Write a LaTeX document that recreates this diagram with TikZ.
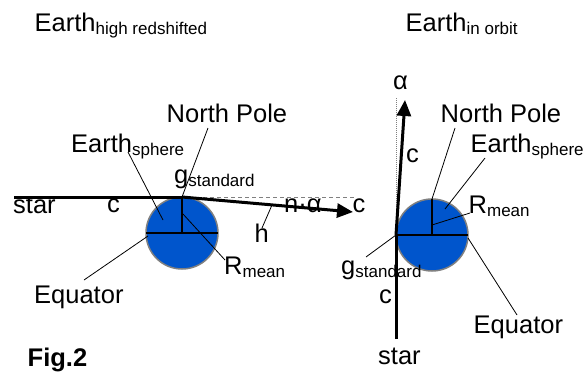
\documentclass[tikz,border=0pt]{standalone}
\usepackage{fontspec}
\setmainfont{Liberation Sans}
\usetikzlibrary{arrows.meta}
\definecolor{earthblue}{RGB}{0,85,204}
\newcommand{\lowtext}[1]{\raisebox{-3.5pt}{\fontsize{17}{17}\selectfont #1}}

\begin{document}
\begin{tikzpicture}[x=1pt, y=1pt,
    lbl/.style={inner sep=0pt, anchor=base west, font=\fontsize{25.5}{30}\selectfont},
    leader/.style={line width=0.8pt},
    beam/.style={line width=3pt},
    axis/.style={line width=2pt},
    earth/.style={fill=earthblue, draw=gray, line width=1.5pt},
    guide/.style={gray, line width=0.8pt, dash pattern=on 4pt off 3pt},
    fineguide/.style={gray, line width=0.8pt, dash pattern=on 1pt off 1pt},
    tip/.style={-{Triangle[length=16pt, width=14pt]}}]
    \def\W{585}   % picture width
    \def\H{372}   % picture height
    \def\R{36}    % earth radius
    \useasboundingbox (0,0) rectangle (\W,-\H);
    % Titles
    \node[lbl] (ltitle) at (34.5,-31) {Earth\lowtext{high redshifted}};
    \node[lbl] (rtitle) at (405.5,-31) {Earth\lowtext{in orbit}};
    \node[lbl, font=\fontsize{25.5}{30}\selectfont\bfseries] (fig) at (27.5,-366) {Fig.2};
    % Draw the redshifted earth
    \begin{scope}[shift={(182,-233)}]
        \coordinate (ltop) at (0,\R);
        \coordinate (lctr) at (0,0);
        \coordinate (lwest) at (-\R,0);
        \coordinate (least) at (\R,0);
        \coordinate (lfar) at (-168,\R);
        \coordinate (ltip) at (171,21);
        \coordinate (ldash) at (173,\R);
        \draw[earth] (lctr) circle [radius=\R];
        \draw[axis] (lwest) -- (least);
        \draw[axis] (lctr) -- (ltop);
        \draw[guide] (ltop) -- (ldash);
        \draw[beam] (lfar) -- (ltop);
        \draw[beam, tip] (ltop) -- (ltip);
        % labels
        \node[lbl] (lnorth) at (-15.5,111) {North Pole};
        \node[lbl] (lsphere) at (-111,81) {Earth\lowtext{sphere}};
        \node[lbl] (lgstd) at (-8,50) {g\lowtext{standard}};
        \node[lbl] (lstar) at (-169,20) {star};
        \node[lbl] (lc) at (-75,21) {c};
        \node[lbl] (lna) at (102,21) {n·α};
        \node[lbl] (lcend) at (170.5,21) {c};
        \node[lbl] (lh) at (72.5,-9) {h};
        \node[lbl] (lrmean) at (42,-41) {R\lowtext{mean}};
        \node[lbl] (lequ) at (-148,-70) {Equator};
        % leaders
        \coordinate (lnorthL) at (26,105);
        \coordinate (lsphereL) at (-54,81);
        \coordinate (lsphereE) at (-19,13);
        \coordinate (lhL) at (80,5);
        \coordinate (lhE) at (90,28);
        \coordinate (lrmeanS) at (1,19);
        \coordinate (lrmeanL) at (43,-27);
        \coordinate (lequL) at (-98,-47);
        \coordinate (lequE) at (-34,-3);
        \draw[leader] (lnorthL) -- (ltop);
        \draw[leader] (lsphereL) -- (lsphereE);
        \draw[leader] (lhL) -- (lhE);
        \draw[leader] (lrmeanS) -- (lrmeanL);
        \draw[leader] (lequL) -- (lequE);
    \end{scope}
    % Draw the orbiting earth
    \begin{scope}[shift={(432,-235)}]
        \coordinate (rtop) at (0,\R);
        \coordinate (rctr) at (0,0);
        \coordinate (rwest) at (-\R,0);
        \coordinate (reast) at (\R,0);
        \coordinate (rfar) at (-36,-104);
        \coordinate (rtip) at (-27,135);
        \coordinate (rdash) at (-36,138);
        \draw[earth] (rctr) circle [radius=\R];
        \draw[axis] (rwest) -- (reast);
        \draw[axis] (rctr) -- (rtop);
        \draw[fineguide] (rwest) -- (rdash);
        \draw[beam] (rfar) -- (rwest);
        \draw[beam, tip] (rwest) -- (rtip);
        % labels
        \node[lbl] (ralpha) at (-39,146) {α};
        \node[lbl] (rnorth) at (8.5,113) {North Pole};
        \node[lbl] (rsphere) at (38.5,83) {Earth\lowtext{sphere}};
        \node[lbl] (rc) at (-26,73) {c};
        \node[lbl] (rrmean) at (36.5,22) {R\lowtext{mean}};
        \node[lbl] (rgstd) at (-91,-39) {g\lowtext{standard}};
        \node[lbl] (rclow) at (-53,-68) {c};
        \node[lbl] (requ) at (41.5,-98) {Equator};
        \node[lbl] (rstar) at (-54,-129) {star};
        % leaders
        \coordinate (rnorthL) at (23,107);
        \coordinate (rsphereL) at (53,77);
        \coordinate (rsphereE) at (13,26);
        \coordinate (rrmeanS) at (0,10);
        \coordinate (rrmeanL) at (38,22);
        \coordinate (rgstdL) at (-66,-22);
        \coordinate (requS) at (36,-3);
        \coordinate (requL) at (85,-80);
        \draw[leader] (rnorthL) -- (rtop);
        \draw[leader] (rsphereL) -- (rsphereE);
        \draw[leader] (rrmeanS) -- (rrmeanL);
        \draw[leader] (rgstdL) -- (rwest);
        \draw[leader] (requS) -- (requL);
    \end{scope}
\end{tikzpicture}
\end{document}
